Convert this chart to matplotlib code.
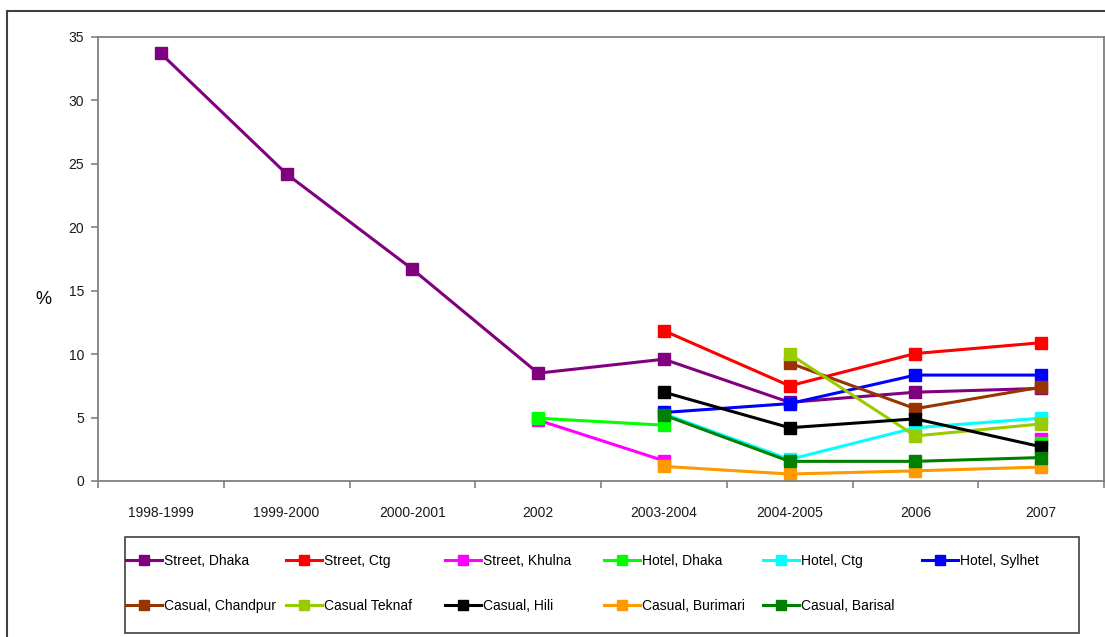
import numpy as np
import matplotlib
matplotlib.use("Agg")
import matplotlib.pyplot as plt
from matplotlib.patches import Rectangle

plt.rcParams['font.family'] = ['Liberation Sans', 'DejaVu Sans']

categories = ["1998-1999", "1999-2000", "2000-2001", "2002",
              "2003-2004", "2004-2005", "2006", "2007"]
nan = np.nan

street_dhaka = [33.7, 24.2, 16.7, 8.5, 9.6, 6.2, 7.0, 7.3]
street_ctg = [nan, nan, nan, nan, 11.85, 7.5, 10.05, 10.9]
street_khulna = [nan, nan, nan, 4.8, 1.6, nan, nan, 3.3]
hotel_dhaka = [nan, nan, nan, 4.95, 4.4, nan, nan, 3.0]
hotel_ctg = [nan, nan, nan, nan, 5.3, 1.7, 4.2, 4.95]
hotel_sylhet = [nan, nan, nan, nan, 5.4, 6.1, 8.35, 8.35]
casual_chandpur = [nan, nan, nan, nan, nan, 9.3, 5.7, 7.4]
casual_teknaf = [nan, nan, nan, nan, nan, 10.0, 3.55, 4.5]
casual_hili = [nan, nan, nan, nan, 7.0, 4.2, 4.9, 2.7]
casual_burimari = [nan, nan, nan, nan, 1.15, 0.55, 0.8, 1.1]
casual_barisal = [nan, nan, nan, nan, 5.2, 1.55, 1.55, 1.85]

series = [
    ("Street, Dhaka", street_dhaka, "#800080"),
    ("Street, Ctg", street_ctg, "#FF0000"),
    ("Street, Khulna", street_khulna, "#FF00FF"),
    ("Hotel, Dhaka", hotel_dhaka, "#00FF00"),
    ("Hotel, Ctg", hotel_ctg, "#00FFFF"),
    ("Hotel, Sylhet", hotel_sylhet, "#0000FF"),
    ("Casual, Chandpur", casual_chandpur, "#993300"),
    ("Casual Teknaf", casual_teknaf, "#99CC00"),
    ("Casual, Hili", casual_hili, "#000000"),
    ("Casual, Burimari", casual_burimari, "#FF9900"),
    ("Casual, Barisal", casual_barisal, "#008000"),
]

fig = plt.figure(figsize=(11.05, 6.37), dpi=100)
ax = fig.add_axes([98 / 1105, 1 - 481 / 637, (1104 - 98) / 1105, (481 - 37) / 637])

x = np.arange(len(categories))
lines = []
for name, vals, col in series:
    ln, = ax.plot(x, vals, color=col, lw=2.2, marker='s', ms=8.8,
                  mec=col, mfc=col, label=name)
    lines.append(ln)

ax.set_xlim(-0.5, len(categories) - 0.5)
ax.set_ylim(0, 35)
ax.set_yticks(range(0, 36, 5))
ax.set_xticks(x)
ax.set_xticklabels(categories)
ax.set_xticks(np.arange(-0.5, len(categories), 1.0), minor=True)
ax.tick_params(axis='x', which='major', length=0, pad=18, labelsize=10,
               labelcolor='#1a1a1a')
ax.tick_params(axis='x', which='minor', length=5, width=1.2, color='#808080', direction='out')
ax.tick_params(axis='y', length=5, width=1.2, color='#808080', direction='out', pad=5,
               labelsize=10, labelcolor='#1a1a1a')
for s in ax.spines.values():
    s.set_color('#808080')
    s.set_linewidth(1.3)

fig.text(43 / 1105, 1 - 300 / 637, "%", fontsize=13, ha='center', va='center')

# outer chart frame
fig.patches.append(Rectangle((7 / 1105, -0.05), 1.2, 1 - 11 / 637 + 0.05,
                             transform=fig.transFigure, fill=False,
                             edgecolor='#404040', lw=1.5))

# legend box with six equal columns
fig.patches.append(Rectangle((125 / 1105, 1 - 633 / 637), (1079 - 125) / 1105,
                             (633 - 537) / 637, transform=fig.transFigure,
                             fill=False, edgecolor='#404040', lw=1.2))
col_x = [126, 286, 445, 604, 763, 922]
for c, cx in enumerate(col_x):
    handles = [lines[c]]
    if c + 6 < len(lines):
        handles.append(lines[c + 6])
    fig.legend(handles=handles, loc='upper left',
               bbox_to_anchor=(cx / 1105, 1 - 554 / 637),
               frameon=False, fontsize=10, handlelength=2.6,
               handletextpad=0.15, labelspacing=2.2, borderaxespad=0,
               borderpad=0, markerscale=0.85)

fig.savefig("out.png", dpi=100)
